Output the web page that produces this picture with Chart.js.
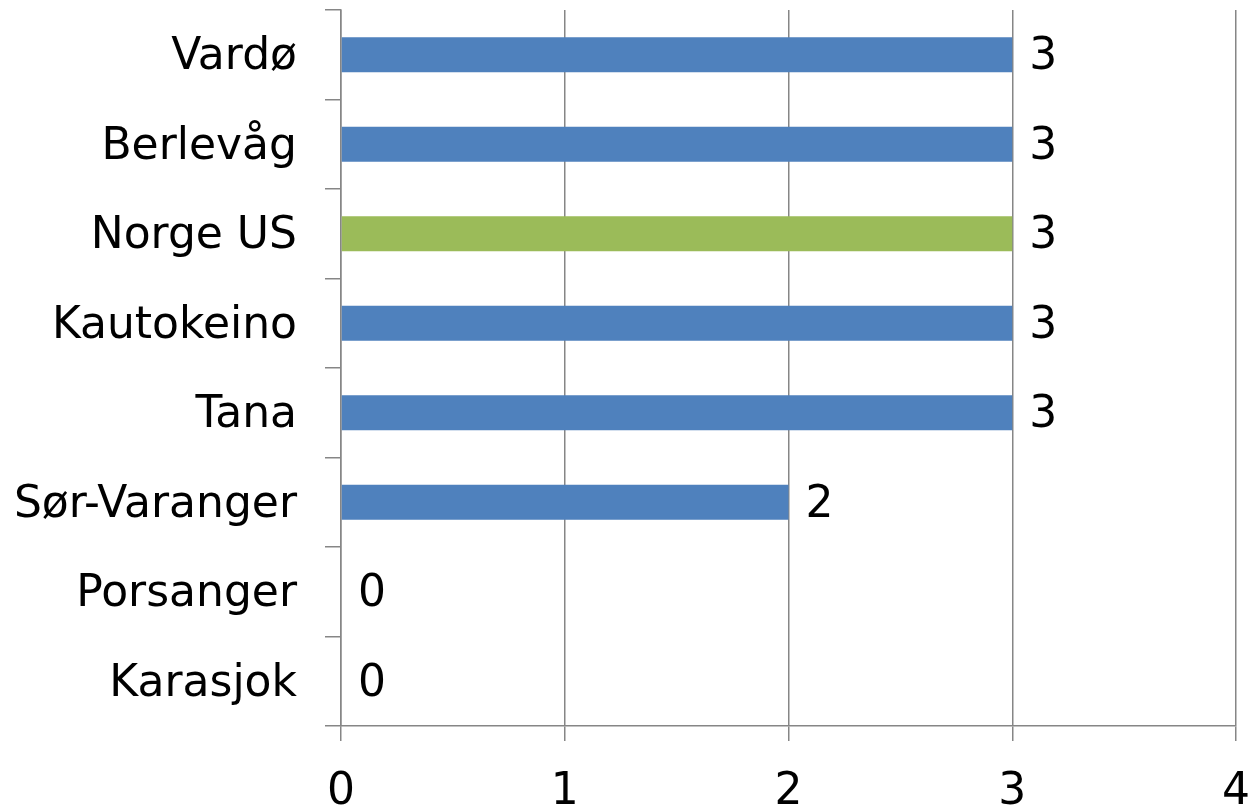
<!DOCTYPE html>
<html>
<head>
<meta charset="utf-8">
<script src="https://cdn.jsdelivr.net/npm/chart.js@4"></script>
<style>
  html, body { margin: 0; padding: 0; background: #fff; }
  #wrap { width: 1252px; height: 810px; }
</style>
</head>
<body>
<div id="wrap"><canvas id="myChart" width="1252" height="810"></canvas></div>
<script>
const kommuner = ["Vardø", "Berlevåg", "Norge US", "Kautokeino", "Tana", "Sør-Varanger", "Porsanger", "Karasjok"];
const verdier = [3, 3, 3, 3, 3, 2, 0, 0];
const xTicks = [0, 1, 2, 3, 4];

const blue = "#4F81BD";
const green = "#9BBB59";
const barColors = kommuner.map(k => k === "Norge US" ? green : blue);
const gridColor = "#868686";
const fontFamily = "'DejaVu Sans', Tahoma, Verdana, sans-serif";
const fontSize = 44;

// draws the value next to each bar
const valueLabels = {
  id: "valueLabels",
  afterDatasetsDraw(chart) {
    const ctx = chart.ctx;
    const meta = chart.getDatasetMeta(0);
    ctx.save();
    ctx.font = fontSize + "px " + fontFamily;
    ctx.fillStyle = "#000";
    ctx.textAlign = "left";
    ctx.textBaseline = "middle";
    meta.data.forEach((bar, i) => {
      ctx.fillText(String(verdier[i]), bar.x + 17, bar.y + 3);
    });
    ctx.restore();
  }
};

new Chart("myChart", {
  type: "bar",
  data: {
    labels: kommuner,
    datasets: [{
      data: verdier,
      backgroundColor: barColors,
      barPercentage: 0.39,
      categoryPercentage: 1.0,
    }],
  },
  options: {
    indexAxis: "y",
    responsive: false,
    animation: false,
    layout: { padding: { top: 10, right: 16, left: 0, bottom: 0 } },
    plugins: {
      legend: { display: false },
      tooltip: { enabled: false },
    },
    scales: {
      x: {
        min: 0,
        max: 4,
        afterBuildTicks(scale) {
          scale.ticks = xTicks.map(v => ({ value: v }));
        },
        afterFit(scale) {
          scale.height = 84;
          scale.paddingLeft = 0;
          scale.paddingRight = 0;
        },
        grid: {
          color: gridColor,
          lineWidth: 1.5,
          tickLength: 15,
          drawTicks: true,
        },
        border: { color: gridColor, width: 1.5 },
        ticks: {
          color: "#000",
          font: { family: fontFamily, size: fontSize },
          padding: 25,
          maxRotation: 0,
        },
      },
      y: {
        afterFit(scale) {
          scale.width = 341;
          scale.paddingTop = 0;
          scale.paddingBottom = 0;
        },
        grid: {
          offset: true,
          drawOnChartArea: false,
          color: gridColor,
          lineWidth: 1.5,
          tickLength: 16,
        },
        border: { color: gridColor, width: 1.5 },
        ticks: {
          color: "#000",
          font: { family: fontFamily, size: fontSize },
          padding: 28,
          labelOffset: 3,
        },
      },
    },
  },
  plugins: [valueLabels],
});
</script>
</body>
</html>
